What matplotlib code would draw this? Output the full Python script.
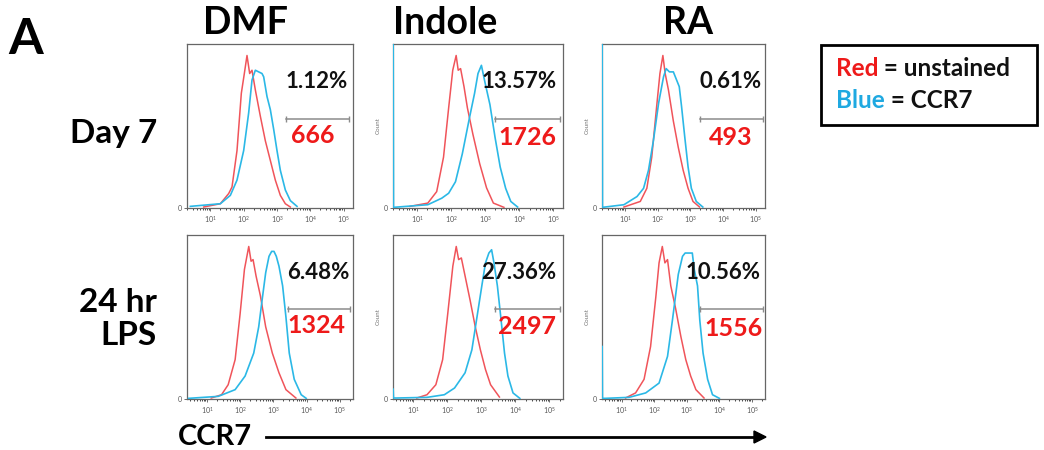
import numpy as np
import matplotlib.pyplot as plt

plt.rcParams['font.family'] = ['Lato', 'DejaVu Sans']

treatments = ['DMF', 'Indole', 'RA']
conditions = ['Day 7', '24 hr\nLPS']
percent_labels = [['1.12%', '13.57%', '0.61%'], ['6.48%', '27.36%', '10.56%']]
mfi_labels = [['666', '1726', '493'], ['1324', '2497', '1556']]

# gate bar (log10 units) and its height (% of axis)
gate_lo = [[3.27, 3.29, 3.30], [3.43, 3.40, 3.40]]
gate_hi = [[5.17, 5.19, 5.21], [5.32, 5.32, 5.35]]
gate_y = [[54, 54, 54], [55, 55, 55]]

# histograms, x = log10(CCR7), y = % of axis height
dmf_d7_red_x = [0.8, 1.3, 1.55, 1.65, 1.8, 1.93, 2.02, 2.1, 2.18, 2.25, 2.35, 2.5, 2.65, 2.8, 2.95, 3.1, 3.25, 3.4]
dmf_d7_red_y = [0.6, 2.6, 8.8, 12.8, 35, 70, 82, 93, 82, 84, 72, 56, 41, 29, 17, 7.7, 2.6, 0.6]
dmf_d7_blue_x = [0.4, 1.3, 1.6, 1.8, 2.0, 2.15, 2.25, 2.35, 2.45, 2.55, 2.6, 2.7, 2.8, 2.9, 3.0, 3.1, 3.25, 3.4, 3.6]
dmf_d7_blue_y = [1, 2.6, 7.7, 17, 35, 58, 78, 84, 83, 82, 80, 68, 60, 48, 35, 23, 11, 4.5, 1]

ind_d7_red_x = [0.8, 1.32, 1.58, 1.78, 1.93, 2.05, 2.15, 2.21, 2.28, 2.38, 2.48, 2.64, 2.84, 3.04, 3.24, 3.55]
ind_d7_red_y = [1, 3, 10, 31, 61, 84, 93, 84, 85, 74, 61, 45, 27, 12.3, 3, 0.4]
ind_d7_blue_x = [0.305, 0.315, 1.32, 1.73, 1.93, 2.13, 2.33, 2.54, 2.69, 2.79, 2.89, 2.99, 3.14, 3.29, 3.44, 3.6, 3.75, 3.95]
ind_d7_blue_y = [100, 0.4, 2, 6, 9, 16, 33, 55, 70, 82, 87, 77, 63, 43, 25, 12, 4, 0.6]

ra_d7_red_x = [0.97, 1.47, 1.67, 1.82, 1.97, 2.07, 2.16, 2.23, 2.33, 2.48, 2.63, 2.78, 2.93, 3.08, 3.28]
ra_d7_red_y = [0.6, 4, 12, 31, 62, 82, 93, 82, 72, 53, 37, 23, 12, 4, 0.6]
ra_d7_blue_x = [0.305, 0.315, 0.97, 1.37, 1.57, 1.72, 1.87, 2.03, 2.18, 2.26, 2.36, 2.48, 2.58, 2.66, 2.73, 2.83, 2.93, 3.03, 3.18, 3.38]
ra_d7_blue_y = [100, 0.4, 2, 7, 12, 23, 41, 64, 80, 85, 83, 83, 78, 74, 62, 43, 25, 12, 4, 0.6]

dmf_lps_red_x = [1.13, 1.44, 1.64, 1.85, 2.0, 2.13, 2.26, 2.33, 2.39, 2.48, 2.61, 2.77, 2.97, 3.17, 3.38, 3.68]
dmf_lps_red_y = [0.6, 2.6, 8.7, 24, 52, 79, 93, 84, 85, 75, 63, 44, 28, 16, 5.7, 0.6]
dmf_lps_blue_x = [0.45, 1.34, 1.85, 2.15, 2.41, 2.56, 2.66, 2.77, 2.87, 2.95, 3.02, 3.09, 3.17, 3.28, 3.38, 3.48, 3.63, 3.84, 3.99]
dmf_lps_blue_y = [0.4, 1.6, 5.7, 14, 28, 44, 60, 77, 87, 90, 90, 87, 81, 69, 50, 28, 12, 2.6, 0.4]

ind_lps_red_x = [1.1, 1.4, 1.66, 1.86, 2.01, 2.16, 2.26, 2.33, 2.41, 2.52, 2.67, 2.82, 2.97, 3.12, 3.27, 3.53]
ind_lps_red_y = [0.6, 2.6, 8.7, 24, 52, 81, 93, 85, 86, 75, 60, 44, 30, 18, 8.7, 1.2]
ind_lps_blue_x = [0.405, 0.415, 0.5, 1.4, 1.91, 2.21, 2.52, 2.72, 2.87, 3.02, 3.12, 3.22, 3.3, 3.37, 3.47, 3.58, 3.68, 3.78, 3.93, 4.13]
ind_lps_blue_y = [6, 0.6, 0.6, 1, 2.6, 6.7, 16, 30, 50, 70, 83, 89, 91, 83, 69, 48, 28, 14, 3.7, 0.4]

ra_lps_red_x = [1.12, 1.43, 1.69, 1.89, 2.05, 2.15, 2.25, 2.33, 2.41, 2.51, 2.66, 2.82, 2.97, 3.12, 3.28, 3.53]
ra_lps_red_y = [0.6, 3.7, 12, 32, 62, 83, 93, 83, 85, 69, 55, 38, 24, 14, 5.7, 0.6]
ra_lps_blue_x = [0.405, 0.415, 0.5, 1.23, 1.74, 2.15, 2.41, 2.56, 2.74, 2.87, 2.95, 3.17, 3.23, 3.33, 3.4, 3.5, 3.64, 3.79, 4.0]
ra_lps_blue_y = [32, 0.4, 0.4, 1, 3.7, 9.7, 26, 48, 76, 87, 89, 89, 79, 69, 48, 28, 12, 2.6, 0.4]

red_x = [[dmf_d7_red_x, ind_d7_red_x, ra_d7_red_x], [dmf_lps_red_x, ind_lps_red_x, ra_lps_red_x]]
red_y = [[dmf_d7_red_y, ind_d7_red_y, ra_d7_red_y], [dmf_lps_red_y, ind_lps_red_y, ra_lps_red_y]]
blue_x = [[dmf_d7_blue_x, ind_d7_blue_x, ra_d7_blue_x], [dmf_lps_blue_x, ind_lps_blue_x, ra_lps_blue_x]]
blue_y = [[dmf_d7_blue_y, ind_d7_blue_y, ra_d7_blue_y], [dmf_lps_blue_y, ind_lps_blue_y, ra_lps_blue_y]]

RED_LINE = '#f0545a'
BLUE_LINE = '#2bb8e6'
RED_TEXT = '#ee1a1a'

W, H = 1044, 450
fig = plt.figure(figsize=(W / 100, H / 100), dpi=100)

col_px = [(187, 353), (393, 563), (602, 765)]
row_px = [(44, 208), (235, 399)]
row_xlim = [(0.3, 5.28), (0.4, 5.4)]
pct_pos = [[(0.78, 0.77), (0.74, 0.77), (0.79, 0.77)], [(0.79, 0.77), (0.74, 0.77), (0.74, 0.77)]]
mfi_pos = [[(0.76, 0.44), (0.79, 0.43), (0.79, 0.43)], [(0.78, 0.45), (0.79, 0.44), (0.81, 0.43)]]

for r in range(2):
    for c in range(3):
        x0, x1 = col_px[c]
        y0, y1 = row_px[r]
        ax = fig.add_axes([x0 / W, 1 - y1 / H, (x1 - x0) / W, (y1 - y0) / H])
        ax.plot(10 ** np.array(red_x[r][c]), red_y[r][c], color=RED_LINE, lw=1.1, zorder=3)
        ax.plot(10 ** np.array(blue_x[r][c]), blue_y[r][c], color=BLUE_LINE, lw=1.2, zorder=3)
        ax.plot([10 ** gate_lo[r][c], 10 ** gate_hi[r][c]], [gate_y[r][c]] * 2,
                color='#8c8c8c', lw=1.1, marker='|', markersize=4.5, zorder=3)
        ax.set_xscale('log')
        ax.set_xlim(10 ** row_xlim[r][0], 10 ** row_xlim[r][1])
        ax.set_ylim(0, 100)
        ax.set_yticks([0])
        ax.set_yticklabels(['0'])
        ax.tick_params(axis='both', labelsize=5, colors='#555555', length=2.5, width=0.6, pad=1.5)
        ax.tick_params(axis='x', which='minor', length=1.5, width=0.5)
        for s in ax.spines.values():
            s.set_color('#666666')
            s.set_linewidth(0.9)
        if c > 0:
            ax.set_ylabel('Count', fontsize=4.5, color='#777777', labelpad=2)
        ax.text(*pct_pos[r][c], percent_labels[r][c], transform=ax.transAxes, zorder=4,
                ha='center', va='center', fontsize=16, fontweight='bold', color='#111111')
        ax.text(*mfi_pos[r][c], mfi_labels[r][c], transform=ax.transAxes, zorder=4,
                ha='center', va='center', fontsize=18, fontweight='bold', color=RED_TEXT)

# column titles
title_x = [245, 445, 688]
for c in range(3):
    fig.text(title_x[c] / W, 1 - 23 / H, treatments[c], ha='center', va='center',
             fontsize=27, fontweight='bold')

# row labels
fig.text(157 / W, 1 - 133 / H, conditions[0], ha='right', va='center', fontsize=24, fontweight='bold')
fig.text(157 / W, 1 - 319 / H, conditions[1], ha='right', va='center', fontsize=24,
         fontweight='bold', multialignment='right', linespacing=1.15)

fig.text(8 / W, 1 - 39 / H, 'A', ha='left', va='center', fontsize=36, fontweight='bold')

# legend box
fig.patches.append(plt.Rectangle((821 / W, 1 - 125 / H), 216 / W, 80 / H, transform=fig.transFigure,
                                 fill=False, edgecolor='black', lw=2))
t1 = fig.text(836 / W, 1 - 69 / H, 'Red', color=RED_TEXT, fontsize=17.5, fontweight='bold', va='center')
t2 = fig.text(836 / W, 1 - 101 / H, 'Blue', color='#1fa9e1', fontsize=17.5, fontweight='bold', va='center')
fig.canvas.draw()
rend = fig.canvas.get_renderer()
for t, rest in [(t1, ' = unstained'), (t2, ' = CCR7')]:
    bb = t.get_window_extent(rend)
    fig.text(bb.x1 / W, t.get_position()[1], rest, color='#111111', fontsize=17.5,
             fontweight='bold', va='center')

# x axis label + arrow
fig.text(178 / W, 1 - 437 / H, 'CCR7', ha='left', va='center', fontsize=21, fontweight='bold')
fig.add_artist(plt.Line2D([266 / W, 755 / W], [1 - 437 / H] * 2, color='black', lw=2))
fig.patches.append(plt.Polygon([[754 / W, 1 - 431 / H], [766 / W, 1 - 437 / H], [754 / W, 1 - 443 / H]],
                               closed=True, color='black', transform=fig.transFigure))

fig.savefig('out.png', dpi=100)
